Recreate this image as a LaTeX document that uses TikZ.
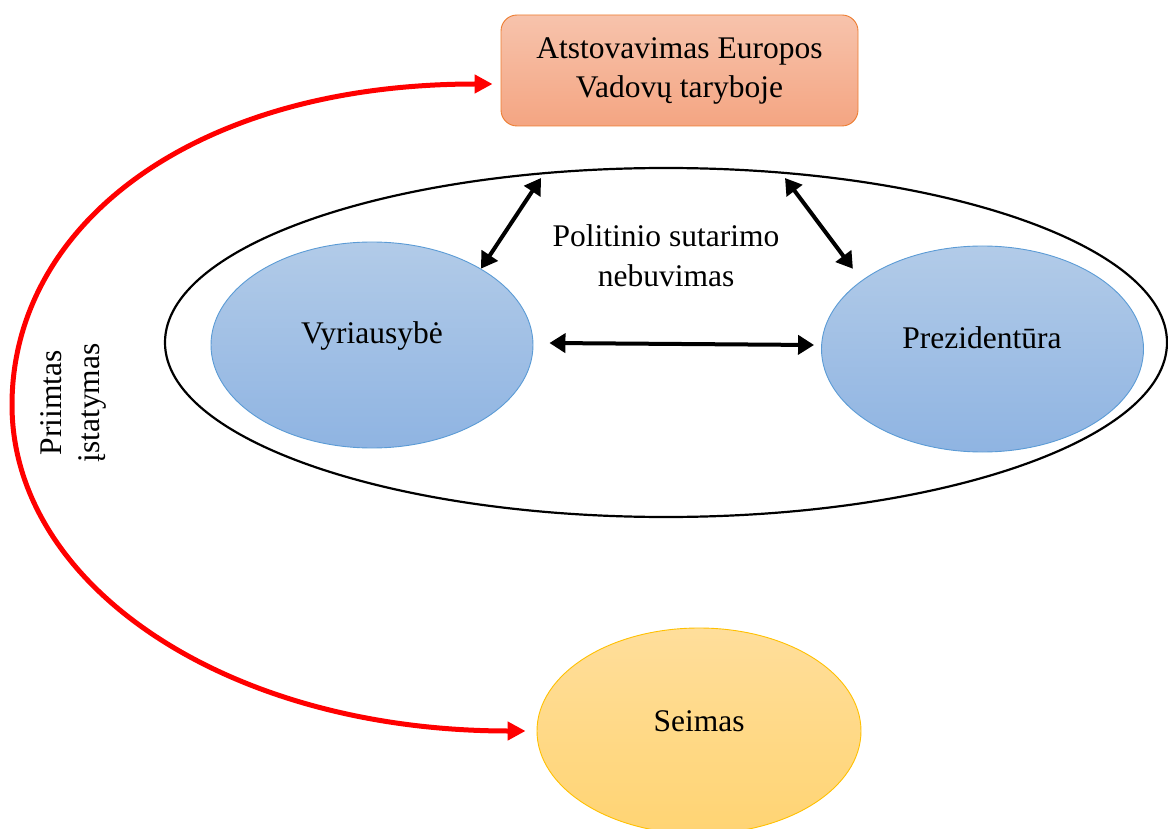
\documentclass[tikz,border=0pt]{standalone}
\usepackage{fontspec}
\setmainfont{Liberation Serif}
\usetikzlibrary{shapes.geometric,arrows.meta}

\definecolor{boxtop}{RGB}{247,195,172}
\definecolor{boxbot}{RGB}{244,165,130}
\definecolor{boxline}{RGB}{237,125,49}
\definecolor{bluetop}{RGB}{178,203,232}
\definecolor{bluebot}{RGB}{143,180,226}
\definecolor{blueline}{RGB}{91,155,213}
\definecolor{goldtop}{RGB}{255,222,155}
\definecolor{goldbot}{RGB}{255,212,115}
\definecolor{goldline}{RGB}{255,192,0}
\definecolor{arcred}{RGB}{255,0,0}

\begin{document}
\begin{tikzpicture}[x=1pt,y=-1pt,
  txt/.style={font=\fontsize{31.5}{40}\selectfont, align=center, inner sep=0pt},
  bluenode/.style={ellipse, draw=blueline, line width=0.9pt, top color=bluetop,
    bottom color=bluebot, minimum width=322pt, minimum height=206pt, inner sep=0pt},
  goldnode/.style={ellipse, draw=goldline, line width=0.9pt, top color=goldtop,
    bottom color=goldbot, minimum width=324pt, minimum height=206pt, inner sep=0pt},
  councilbox/.style={rectangle, rounded corners=16pt, draw=boxline, line width=0.9pt,
    top color=boxtop, bottom color=boxbot, minimum width=357pt, minimum height=111pt,
    inner sep=0pt, font=\fontsize{31.5}{39}\selectfont, align=center},
  relarrow/.style={line width=4pt,
    {Triangle[length=16pt,width=19pt]}-{Triangle[length=16pt,width=19pt]}},
  lawarc/.style={arcred, line width=5pt,
    {Triangle[length=18pt,width=18pt]}-{Triangle[length=18pt,width=18pt]}}
]
\useasboundingbox (0,0) rectangle (1168,829);

% executive frame
\node[ellipse, draw, line width=2.2pt, minimum width=1002pt, minimum height=349pt,
  inner sep=0pt] (frame) at (666,342.5) {};
\coordinate (f1) at (541,178);
\coordinate (f2) at (785,178);

% institutions
\node[councilbox] (council) at (679.5,70.5) {Atstovavimas Europos\\Vadovų taryboje};
\node[bluenode] (gov) at (372,345) {};
\node[bluenode] (pres) at (982.5,349) {};
\node[goldnode] (seim) at (699,731) {};

\node[txt, anchor=base] (govtxt) at (372,343) {Vyriausybė};
\node[txt, anchor=base] (prestxt) at (982,348) {Prezidentūra};
\node[txt, anchor=base] (seimtxt) at (699,731) {Seimas};
\node[txt] (gap) at (666,256) {Politinio sutarimo\\nebuvimas};

% mutual relations inside the frame
\draw[relarrow] (gov.35) -- (f1);
\draw[relarrow] (f2) -- ([shift={(-14,-8)}]pres.148);
\draw[relarrow] ([shift={(16,-2)}]gov.east) -- ([shift={(-7,-4)}]pres.west);

% adopted law loop
\draw[lawarc] ([shift={(-8,13.5)}]council.west)
  .. controls (193,84) and (12,225) .. (12,405)
  .. controls (12,585) and (226,731) .. ([xshift=-11pt]seim.west);
\node[txt, rotate=90, font=\fontsize{31.5}{38}\selectfont] (law) at (73.5,403)
  {Priimtas\\įstatymas};
\end{tikzpicture}
\end{document}
